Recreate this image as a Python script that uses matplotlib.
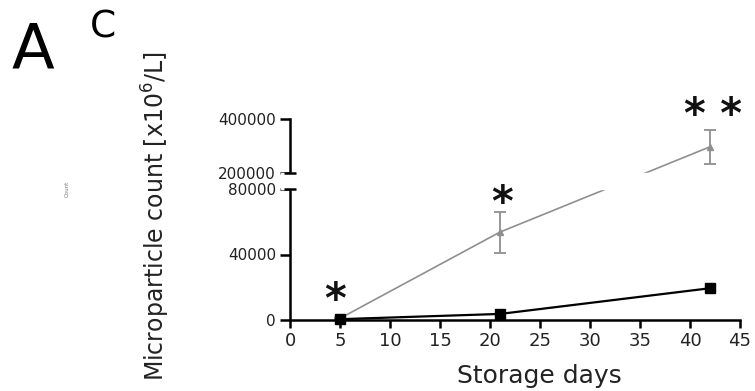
import numpy as np
import matplotlib
matplotlib.use("Agg")
import matplotlib.pyplot as plt
import matplotlib.transforms as mtransforms

days = [5, 21, 42]
gray_mean = [1000, 53700, 297000]
gray_err = [300, 12500, 62000]
black_mean = [500, 3700, 19400]
stars = ["*", "*", "* *"]
star_x = [4.5, 21.2, 42.3]
star_y = [11600, 70800, 411000]

yticks = [0, 40000, 80000, 200000, 400000]
xticks = list(range(0, 50, 5))

# broken y axis: value -> screen height (px) with a gap between 80000 and 200000
brk_v = np.array([0, 80000, 200000, 400000], float)
brk_p = np.array([0, 131, 147, 201], float)


def _pw(x, xs, ys):
    x = np.asarray(x, float)
    out = np.interp(x, xs, ys)
    lo = (ys[1] - ys[0]) / (xs[1] - xs[0])
    hi = (ys[-1] - ys[-2]) / (xs[-1] - xs[-2])
    out = np.where(x < xs[0], ys[0] + (x - xs[0]) * lo, out)
    out = np.where(x > xs[-1], ys[-1] + (x - xs[-1]) * hi, out)
    return out


def fwd(v):
    return _pw(v, brk_v, brk_p)


def inv(p):
    return _pw(p, brk_p, brk_v)


W, H = 755, 391
fig = plt.figure(figsize=(W / 100, H / 100), dpi=100)
ax = fig.add_axes([290 / W, (H - 320) / H, 450 / W, 201 / H])
ax.set_yscale("function", functions=(fwd, inv))

gray = "#8f8f8f"
ax.errorbar(days, gray_mean, yerr=gray_err, color=gray, lw=1.2, marker="^", ms=4,
            elinewidth=1.3, capsize=4, capthick=1.3, zorder=2, clip_on=False)
ax.plot(days, black_mean, color="black", lw=1.6, marker="s", ms=6.5, zorder=2.2,
        clip_on=False)

ax.set_xlim(0, 45)
ax.set_ylim(0, 400000)
ax.set_xticks(xticks)
ax.set_yticks(yticks)
ax.set_yticklabels([str(t) for t in yticks])
ax.tick_params(axis="x", labelsize=13, length=6, width=1.8, pad=3, colors="#222222")
ax.tick_params(axis="y", labelsize=11, length=7, width=1.8, pad=3, colors="#222222")
ax.tick_params(axis="both", color="black")

for s in ["top", "right"]:
    ax.spines[s].set_visible(False)
for s in ["left", "bottom"]:
    ax.spines[s].set_linewidth(1.8)

# cut the gap of the broken axis
gap = ax.axhspan(80000, 200000, xmin=-0.02, xmax=1.0, color="white", zorder=3)
gap.set_clip_on(False)
trans = mtransforms.blended_transform_factory(ax.transAxes, ax.transData)
ax.plot([0, 0], [80000, 200000], transform=trans, ls="none", marker="_", ms=9,
        mew=1.8, color="black", clip_on=False, zorder=4)

for sx, sy, st in zip(star_x, star_y, stars):
    ax.text(sx, sy, st, fontsize=30, fontweight="bold", ha="center", va="center",
            clip_on=False, color="#111111")

fig.text(12 / W, 1 - 68 / H, "A", fontsize=45, ha="left", va="baseline")
fig.text(90 / W, 1 - 37 / H, "C", fontsize=27, ha="left", va="baseline")
fig.text(67 / W, 1 - 189 / H, "Count", fontsize=4, rotation=90, color="#777777",
         ha="center", va="center")
fig.text(156 / W, 1 - 216 / H, "Microparticle count [x10$^{6}$/L]", fontsize=17,
         rotation=90, ha="center", va="center", color="#222222")
fig.text(539 / W, 1 - 383 / H, "Storage days", fontsize=18, ha="center",
         va="baseline", color="#222222")

fig.savefig("out.png", dpi=100, facecolor="white")
